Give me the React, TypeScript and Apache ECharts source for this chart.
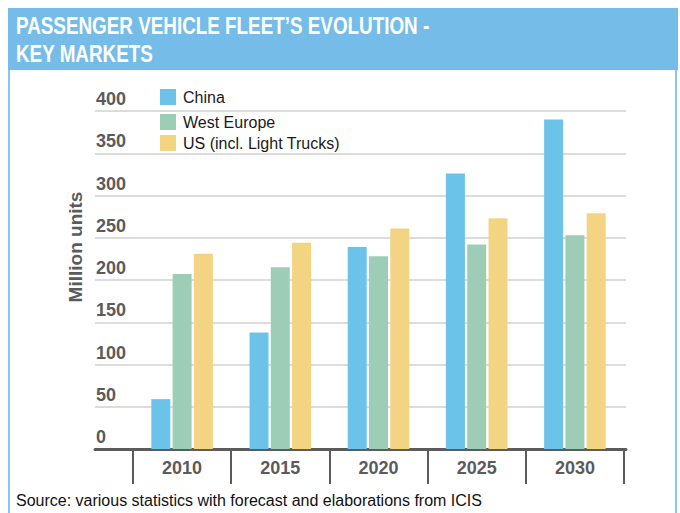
import React, { useEffect, useRef } from "react";
import * as echarts from "echarts";

const categories = ["2010", "2015", "2020", "2025", "2030"];
const china = [59, 138, 239, 326, 390];
const westEurope = [207, 215, 228, 242, 253];
const us = [231, 244, 261, 273, 279];
const yTicks = { min: 0, max: 400, interval: 50 };

const titleLines = ["PASSENGER VEHICLE FLEET\u2019S EVOLUTION -", "KEY MARKETS"];
const sourceText = "Source: various statistics with forecast and elaborations from ICIS";

const AXIS_GRAY = "#5b5b5b";
const FONT = "'Liberation Sans', Arial, sans-serif";
const TITLE_FONT = "bold 23px 'Liberation Sans', Arial, sans-serif";

export default function App() {
  const ref = useRef<HTMLDivElement>(null);
  useEffect(() => {
    document.body.style.margin = "0";
    const chart = echarts.init(ref.current!, null, { renderer: "svg" });
    const option: any = {
      animation: false,
      backgroundColor: "#ffffff",
      textStyle: { fontFamily: FONT },
      grid: [
        { left: 95, width: 531, top: 111, height: 338 },
        { left: 133, width: 491, top: 111, height: 338 },
      ],
      xAxis: [
        {
          gridIndex: 0,
          type: "value",
          min: 0,
          max: 1,
          axisLine: { show: true, lineStyle: { color: AXIS_GRAY, width: 3 } },
          axisTick: { show: false },
          axisLabel: { show: false },
          splitLine: { show: false },
        },
        {
          gridIndex: 1,
          type: "category",
          data: categories,
          axisLine: { show: false },
          axisTick: { show: true, length: 35, lineStyle: { color: AXIS_GRAY, width: 2 } },
          axisLabel: {
            color: AXIS_GRAY,
            fontSize: 18,
            fontWeight: "bold",
            fontFamily: FONT,
            margin: 10,
          },
        },
      ],
      yAxis: [
        {
          gridIndex: 0,
          type: "value",
          min: yTicks.min,
          max: yTicks.max,
          interval: yTicks.interval,
          axisLine: { show: false },
          axisTick: { show: false },
          splitLine: { show: true, lineStyle: { color: "#dcdcdc", width: 2 } },
          axisLabel: {
            inside: true,
            margin: 1,
            align: "left",
            verticalAlign: "bottom",
            padding: [0, 0, 3, 0],
            color: AXIS_GRAY,
            fontSize: 18,
            fontWeight: "bold",
            fontFamily: FONT,
          },
        },
        {
          gridIndex: 1,
          type: "value",
          min: yTicks.min,
          max: yTicks.max,
          interval: yTicks.interval,
          show: false,
        },
      ],
      legend: [
        {
          data: ["China"],
          left: 160,
          top: 89,
          itemWidth: 16,
          itemHeight: 16,
          icon: "rect",
          padding: 0,
          textStyle: { fontSize: 16, color: "#1a1a1a", fontFamily: FONT, padding: [0, 0, 0, 2] },
        },
        {
          data: ["West Europe", "US (incl. Light Trucks)"],
          orient: "vertical",
          left: 160,
          top: 114,
          itemWidth: 16,
          itemHeight: 16,
          itemGap: 5,
          icon: "rect",
          padding: 0,
          textStyle: { fontSize: 16, color: "#1a1a1a", fontFamily: FONT, padding: [0, 0, 0, 2] },
        },
      ],
      series: [
        {
          name: "China",
          type: "bar",
          xAxisIndex: 1,
          yAxisIndex: 1,
          data: china,
          barWidth: 19,
          barGap: "12%",
          itemStyle: { color: "#6cc3ea" },
        },
        {
          name: "West Europe",
          type: "bar",
          xAxisIndex: 1,
          yAxisIndex: 1,
          data: westEurope,
          barWidth: 19,
          barGap: "12%",
          itemStyle: { color: "#9ecdb7" },
        },
        {
          name: "US (incl. Light Trucks)",
          type: "bar",
          xAxisIndex: 1,
          yAxisIndex: 1,
          data: us,
          barWidth: 19,
          barGap: "12%",
          itemStyle: { color: "#f3d482" },
        },
      ],
      graphic: [
        {
          type: "rect",
          z: 0,
          shape: { x: 9, y: 60, width: 667, height: 470 },
          style: { fill: "none", stroke: "#86c8f0", lineWidth: 2 },
        },
        {
          type: "rect",
          z: 1,
          shape: { x: 8, y: 8, width: 670, height: 62 },
          style: { fill: "#75bde8" },
        },
        {
          type: "text",
          z: 2,
          x: 16,
          y: 26,
          scaleX: 0.82,
          style: {
            text: titleLines[0],
            fill: "#ffffff",
            font: TITLE_FONT,
            verticalAlign: "middle",
          },
        },
        {
          type: "text",
          z: 2,
          x: 16,
          y: 54,
          scaleX: 0.82,
          style: {
            text: titleLines[1],
            fill: "#ffffff",
            font: TITLE_FONT,
            verticalAlign: "middle",
          },
        },
        {
          type: "text",
          z: 2,
          x: 75,
          y: 247,
          rotation: Math.PI / 2,
          style: {
            text: "Million units",
            fill: AXIS_GRAY,
            font: "bold 19px 'Liberation Sans', Arial, sans-serif",
            align: "center",
            verticalAlign: "middle",
          },
        },
        {
          type: "text",
          z: 2,
          x: 16,
          y: 500,
          style: {
            text: sourceText,
            fill: "#111111",
            font: "16px 'Liberation Sans', Arial, sans-serif",
            verticalAlign: "middle",
          },
        },
      ],
    };
    chart.setOption(option);
    return () => chart.dispose();
  }, []);
  return <div ref={ref} style={{ width: 680, height: 513 }} />;
}
